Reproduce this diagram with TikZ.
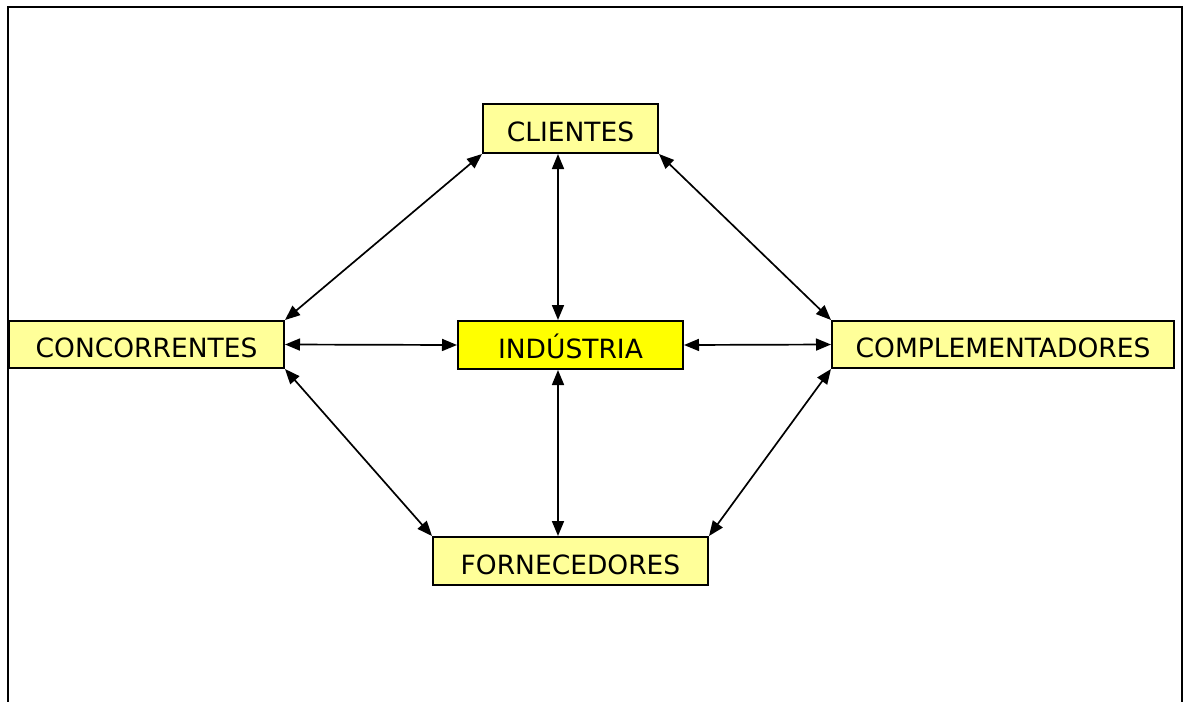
\documentclass[tikz,border=0pt]{standalone}
\usepackage{fontspec}
\setmainfont{DejaVu Sans}
\usetikzlibrary{arrows.meta}
\definecolor{paleyellow}{RGB}{255,255,153}
\definecolor{brightyellow}{RGB}{255,255,0}
\begin{document}
\begin{tikzpicture}[x=1pt,y=-1pt,
  box/.style={draw=black, line width=2pt, fill=paleyellow, inner sep=0pt,
    font=\fontsize{26.5}{30}\selectfont, text height=26pt, text depth=0pt},
  link/.style={line width=1.7pt, {Triangle[length=15pt,width=12pt]}-{Triangle[length=15pt,width=12pt]}}]
  \useasboundingbox (0,0) rectangle (1187,702);
  % outer frame, open at the bottom
  \draw[line width=2.4pt] (8,702) -- (8,7) -- (1182,7) -- (1182,702);

  % the five parties
  \node[box, minimum width=175pt, minimum height=49pt] (cli) at (570.5,128.5) {CLIENTES};
  \node[box, fill=brightyellow, minimum width=225pt, minimum height=48pt] (ind) at (570.5,345) {INDÚSTRIA};
  \node[box, minimum width=275pt, minimum height=47pt] (con) at (146.5,344.5) {CONCORRENTES\hspace{8pt}};
  \node[box, minimum width=342pt, minimum height=47pt] (comp) at (1003,344.5) {COMPLEMENTADORES};
  \node[box, minimum width=275pt, minimum height=48pt] (forn) at (570.5,561) {FORNECEDORES\hspace{10pt}};

  % two-way relations
  \draw[link] (cli.south west) -- (con.north east);
  \draw[link] ([xshift=-12.5pt]cli.south) -- ([xshift=-12.5pt]ind.north);
  \draw[link] (cli.south east) -- (comp.north west);
  \draw[link] (con.east) -- (ind.west);
  \draw[link] (ind.east) -- (comp.west);
  \draw[link] (con.south east) -- (forn.north west);
  \draw[link] ([xshift=-12.5pt]ind.south) -- ([xshift=-12.5pt]forn.north);
  \draw[link] (comp.south west) -- (forn.north east);
\end{tikzpicture}
\end{document}
